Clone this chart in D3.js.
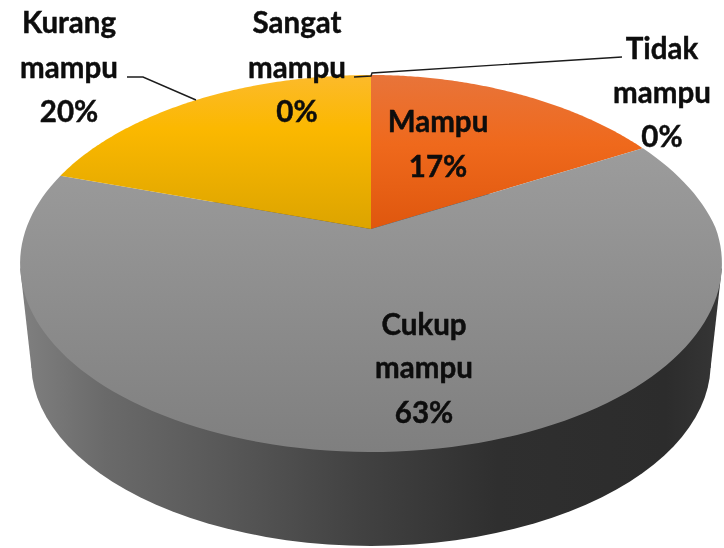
<!DOCTYPE html>
<html><head><meta charset="utf-8">
<script src="https://d3js.org/d3.v7.min.js"></script>
<style>html,body{margin:0;padding:0;background:#fff}svg{display:block}</style>
</head><body><div id="c"></div>
<script>
const categories = ["Mampu","Cukup mampu","Kurang mampu","Sangat mampu","Tidak mampu"];
const values = [17,63,20,0,0];
const percentLabels = ["17%","63%","20%","0%","0%"];
const sliceGradients = [
  [["0%","#e8743a"],["45%","#ef691c"],["100%","#df570e"]],
  [["0%","#a3a3a3"],["100%","#7f7f7f"]],
  [["0%","#fcba2b"],["35%","#fbb800"],["100%","#dca400"]]
];
const sliceBands = [[75,229],[75,452],[75,229]];
const labelLines = [
  {lines:["Kurang","mampu","20%"],x:[69,69,69],y:[33,78,122]},
  {lines:["Sangat","mampu","0%"],x:[297,297,297],y:[33,78,122]},
  {lines:["Tidak","mampu","0%"],x:[662,662,662],y:[59,103,147]},
  {lines:["Mampu","17%"],x:[438,438],y:[132,177]},
  {lines:["Cukup","mampu","63%"],x:[424,424,424],y:[335,378,423]}
];
const leaders = [
  [[127,77],[143,77],[196,100]],
  [[354,77],[371,76],[372,73],[622,57]]
];
const W=724,H=548;
const svg=d3.select("#c").append("svg").attr("width",W).attr("height",H);
const defs=svg.append("defs");
const blur=defs.append("filter").attr("id","soft").attr("x","-5%").attr("y","-5%").attr("width","110%").attr("height","110%");
blur.append("feGaussianBlur").attr("stdDeviation",0.45);
sliceGradients.forEach((g,i)=>{
  const lg=defs.append("linearGradient").attr("id","s"+i).attr("gradientUnits","userSpaceOnUse")
    .attr("x1",0).attr("x2",0).attr("y1",sliceBands[i][0]).attr("y2",sliceBands[i][1]);
  g.forEach(s=>lg.append("stop").attr("offset",s[0]).attr("stop-color",s[1]));
});
const sg=defs.append("linearGradient").attr("id","side").attr("gradientUnits","userSpaceOnUse").attr("x1",20).attr("x2",722).attr("y1",0).attr("y2",0);
[["0%","#808080"],["12%","#6a6a6a"],["30%","#575757"],["48%","#424242"],["68%","#2f2f2f"],["92%","#2c2c2c"],["100%","#363636"]]
 .forEach(s=>sg.append("stop").attr("offset",s[0]).attr("stop-color",s[1]));

// perspective projection of the unit disc, with a small inset of the upper-right rim
const cx=371, apexY=229, p=-0.183, a=182.2, b=345, inset=14;
const proj=(ang,r=1,dy=0,k=1)=>{
  const u=Math.sin(ang)*r, v=-Math.cos(ang)*r, d=1+p*v;
  return [cx+k*b*u/d-inset*Math.max(0,u)*Math.max(0,-v), apexY+dy+k*a*v/d];
};
const line=d3.line();
const arcs=d3.pie().sort(null).value(d=>d)(values);
const sample=(a0,a1,dy=0,k=1)=>d3.range(0,121).map(i=>proj(a0+(a1-a0)*i/120,1,dy,k));

// side wall: lower disc plus the band joining the rims
const lower=sample(0,2*Math.PI,101,0.968);
const upper=sample(0,2*Math.PI);
const ext=pts=>[pts.reduce((m,q)=>q[0]<m[0]?q:m),pts.reduce((m,q)=>q[0]>m[0]?q:m)];
const [ul,ur]=ext(upper),[ll,lr]=ext(lower);
svg.append("path").attr("d",line(lower)+"Z").attr("fill","url(#side)");
svg.append("path").attr("d",line([ul,ur,lr,ll])+"Z").attr("fill","url(#side)");

// top face
svg.selectAll("path.slice").data(arcs.filter(d=>d.value>0)).join("path").attr("class","slice")
  .attr("d",d=>line([[cx,apexY],...sample(d.startAngle,d.endAngle)])+"Z")
  .attr("fill",d=>"url(#s"+d.index+")");

// leader lines
svg.selectAll("path.leader").data(leaders).join("path").attr("class","leader")
  .attr("d",d=>line(d)).attr("fill","none").attr("stroke","#1c1c1c").attr("stroke-width",1.4);

// labels
const t=svg.append("g").attr("filter","url(#soft)").attr("font-family","Lato, 'Open Sans', sans-serif")
  .attr("font-weight",700).attr("font-size",29.5).attr("fill","#0a0a0a").attr("stroke","#0a0a0a").attr("stroke-width",0.4).attr("text-anchor","middle");
labelLines.forEach(l=>l.lines.forEach((s,i)=>t.append("text").attr("x",l.x[i]).attr("y",l.y[i]).text(s)));
</script></body></html>
